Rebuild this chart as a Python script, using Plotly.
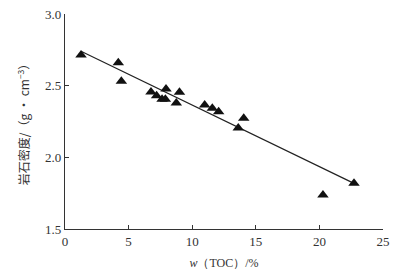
import plotly.graph_objects as go

toc = [1.26, 4.19, 4.43, 6.76, 7.2, 7.63, 7.89, 7.94, 8.75, 9.0, 10.98, 11.58, 12.08, 13.62, 14.05, 20.28, 22.72]
density = [2.714, 2.66, 2.53, 2.456, 2.43, 2.405, 2.405, 2.477, 2.379, 2.454, 2.365, 2.342, 2.318, 2.204, 2.272, 1.737, 1.819]
fit_x = [1.26, 22.8]
fit_y = [2.74, 1.815]

fig = go.Figure()
fig.add_trace(go.Scatter(x=fit_x, y=fit_y, mode="lines",
                         line=dict(color="#222222", width=1.2), showlegend=False))
fig.add_trace(go.Scatter(x=toc, y=density, mode="markers",
                         marker=dict(symbol="triangle-up", size=10, color="#111111"),
                         showlegend=False))

serif = "'Liberation Serif', 'Times New Roman', Times, serif"
fig.update_layout(
    width=397, height=270,
    margin=dict(l=57, r=22, t=6, b=49),
    paper_bgcolor="white", plot_bgcolor="white",
    font=dict(family=serif, size=13, color="#333333"),
    xaxis=dict(range=[0, 25], tickvals=[0, 5, 10, 15, 20, 25], ticks="inside", ticklen=4,
               tickcolor="#333333", showline=True, linecolor="#333333", linewidth=1.2,
               showgrid=False, zeroline=False, automargin=False,
               ticklabeloverflow="allow",
               tickfont=dict(family=serif, size=13),
               title=dict(text="<i>w</i>（TOC）/%", font=dict(family=serif, size=12), standoff=10)),
    yaxis=dict(range=[1.5, 3.0], tickvals=[1.5, 2.0, 2.5, 3.0], tickformat=".1f",
               ticks="inside", ticklen=4, automargin=False,
               ticklabeloverflow="allow",
               tickcolor="#333333", showline=True, linecolor="#333333", linewidth=1.2,
               showgrid=False, zeroline=False,
               tickfont=dict(family=serif, size=13),
               title=dict(text="岩石密度/（g · cm<sup>−3</sup>）",
                          font=dict(family="'Noto Sans CJK SC'", size=12), standoff=12)),
)
fig.write_html("out.html")
